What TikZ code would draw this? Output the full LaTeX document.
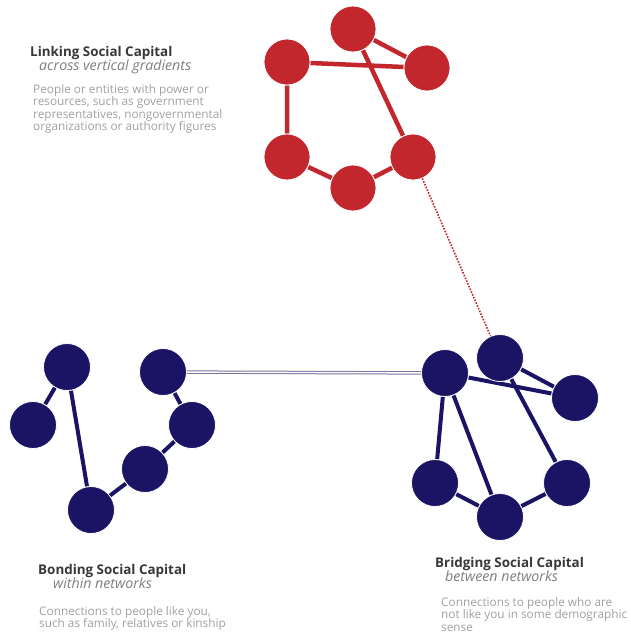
\documentclass[tikz,border=0pt]{standalone}
\usepackage{fontspec}
\setmainfont{Open Sans}
\usepackage{xcolor}
\usetikzlibrary{positioning,backgrounds}
\definecolor{capred}{HTML}{C1272D}
\definecolor{capblue}{HTML}{1B1464}
\definecolor{headgray}{HTML}{383838}
\definecolor{subgray}{HTML}{7E7E7E}
\definecolor{descgray}{HTML}{A0A0A0}
\newcommand\desclines{\fontsize{11.8}{12.3}\selectfont\lineskiplimit=-20pt\relax}
\tikzset{
  rdot/.style={circle,fill=capred,draw=white,line width=0.8pt,minimum size=46pt,inner sep=0pt},
  bdot/.style={circle,fill=capblue,draw=white,line width=0.8pt,minimum size=47pt,inner sep=0pt},
  redge/.style={capred,line width=4.5pt},
  bedge/.style={capblue,line width=4pt},
  head/.style={anchor=base west,inner sep=0pt,text=headgray,font=\bfseries\fontsize{13.4}{14}\selectfont},
  subhead/.style={anchor=base west,inner sep=0pt,text=subgray,font=\itshape\fontsize{14.2}{15}\selectfont},
  % multi-line: anchored at the baseline of the last line
  desc/.style={anchor=base west,inner sep=0pt,align=left,text=descgray,font=\desclines}
}
\begin{document}
\begin{tikzpicture}[line cap=round,line join=round,x=1pt,y=-1pt]
\useasboundingbox (0,0) rectangle (630,637);
% linking cluster
\node[rdot] (r1) at (353,29) {};
\node[rdot] (r2) at (427,68) {};
\node[rdot] (r3) at (287,62) {};
\node[rdot] (r4) at (287,157) {};
\node[rdot] (r5) at (353,188) {};
\node[rdot] (r6) at (413,157) {};
% bonding cluster
\node[bdot] (a1) at (67,367) {};
\node[bdot] (a2) at (33,425) {};
\node[bdot] (a3) at (91,510) {};
\node[bdot] (a4) at (145,469) {};
\node[bdot] (a5) at (192,425) {};
\node[bdot] (a6) at (163,372) {};
% bridging cluster
\node[bdot] (b1) at (445,373) {};
\node[bdot] (b2) at (500,358) {};
\node[bdot] (b3) at (575,398) {};
\node[bdot] (b4) at (435,483) {};
\node[bdot] (b5) at (500,517) {};
\node[bdot] (b6) at (567,483) {};
% edges behind the dots
\begin{scope}[on background layer]
\draw[redge] (r3) -- (r2) (r1) -- (r2) (r1) -- (r6) (r3) -- (r4) (r4) -- (r5) (r5) -- (r6);
\draw[bedge] (a1) -- (a2) (a1) -- (a3) (a3) -- (a4) (a4) -- (a5) (a5) -- (a6);
\draw[bedge] (b1) -- (b3) (b2) -- (b3) (b2) -- (b6) (b1) -- (b4) (b1) -- (b5) (b4) -- (b5) (b5) -- (b6);
\end{scope}
\draw[capblue!60,line width=1pt,double=white,double distance=1.4pt,line cap=butt] (a6) -- (b1);
\draw[capred,line width=1.6pt,dash pattern=on 1.6pt off 1.4pt,line cap=butt] (r6) -- (b2);
% texts
\node[head] (linkhead) at (30,56) {Linking Social Capital};
\node[subhead] (linksub) at (39,70) {across vertical gradients};
\node[desc] (linkdesc) at (33,130.5) {People or entities with power or\\resources, such as government\\representatives, nongovernmental\\organizations or authority figures};
\node[head] (bondhead) at (38,574) {Bonding Social Capital};
\node[subhead] (bondsub) at (53,588) {within networks};
\node[desc] (bonddesc) at (39,627.5) {Connections to people like you,\\such as family, relatives or kinship};
\node[head] (bridhead) at (435,567) {Bridging Social Capital};
\node[subhead] (bridsub) at (445,581) {between networks};
\node[desc] (briddesc) at (441,631) {Connections to people who are\\not like you in some demographic\\sense};
\end{tikzpicture}
\end{document}
